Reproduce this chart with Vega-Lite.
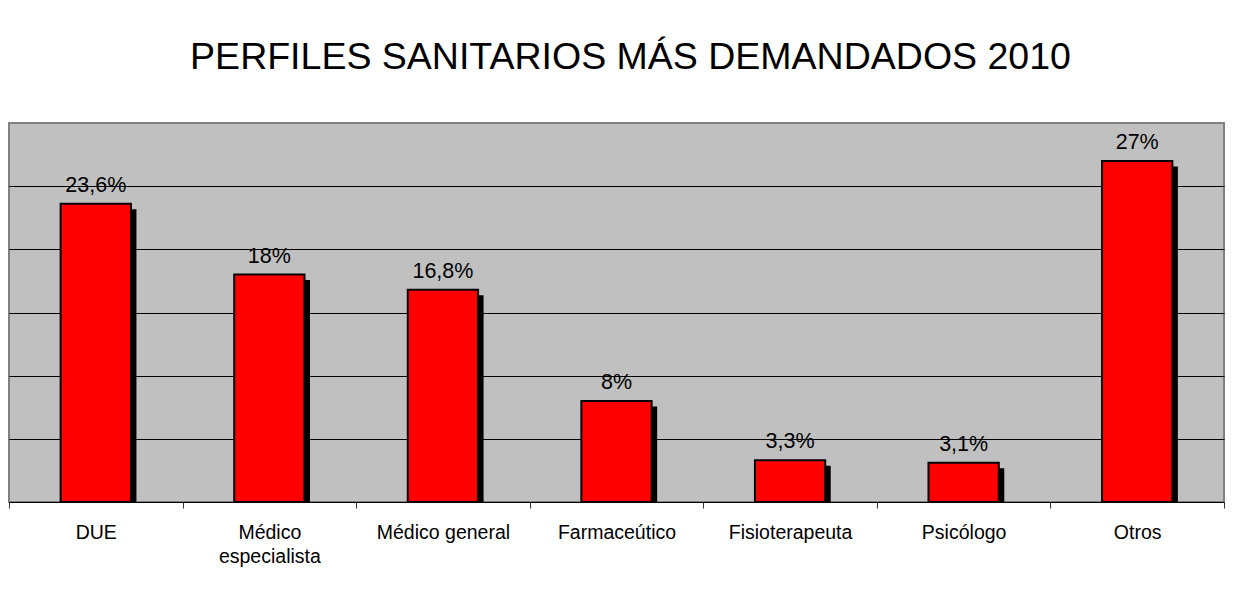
{
  "$schema": "https://vega.github.io/schema/vega-lite/v6.json",
  "width": 1215,
  "height": 379,
  "autosize": {"type": "none"},
  "padding": {"left": 9, "top": 123, "right": 15, "bottom": 92},
  "background": "white",
  "title": {
    "text": "PERFILES SANITARIOS MÁS DEMANDADOS 2010",
    "font": "Liberation Sans",
    "fontSize": 37.5,
    "fontWeight": "normal",
    "color": "black",
    "anchor": "middle",
    "frame": "group",
    "offset": 47,
    "dx": 14
  },
  "config": {
    "view": {"fill": "#C0C0C0", "stroke": "#808080", "strokeWidth": 2}
  },
  "data": {
    "values": [
      {"perfil": "DUE", "valor": 23.6, "etiqueta": "23,6%"},
      {"perfil": "Médico especialista", "valor": 18, "etiqueta": "18%"},
      {"perfil": "Médico general", "valor": 16.8, "etiqueta": "16,8%"},
      {"perfil": "Farmaceútico", "valor": 8, "etiqueta": "8%"},
      {"perfil": "Fisioterapeuta", "valor": 3.3, "etiqueta": "3,3%"},
      {"perfil": "Psicólogo", "valor": 3.1, "etiqueta": "3,1%"},
      {"perfil": "Otros", "valor": 27, "etiqueta": "27%"}
    ]
  },
  "encoding": {
    "x": {
      "field": "perfil",
      "type": "nominal",
      "sort": null,
      "scale": {"paddingInner": 0, "paddingOuter": 0},
      "axis": {
        "title": null,
        "labelAngle": 0,
        "tickBand": "extent",
        "tickColor": "#333333",
        "tickSize": 6,
        "domainColor": "black",
        "domainWidth": 1,
        "labelFont": "Liberation Sans",
        "labelFontSize": 19.5,
        "labelColor": "black",
        "labelPadding": 15,
        "labelBaseline": "top",
        "labelLineHeight": 24.5,
        "labelExpr": "datum.label == 'Médico especialista' ? ['Médico', 'especialista'] : datum.label"
      }
    },
    "y": {
      "field": "valor",
      "type": "quantitative",
      "scale": {"domain": [0, 30], "nice": false},
      "axis": {
        "title": null,
        "labels": false,
        "ticks": false,
        "domain": false,
        "grid": true,
        "gridColor": "black",
        "gridWidth": 1,
        "values": [5, 10, 15, 20, 25]
      }
    }
  },
  "layer": [
    {
      "mark": {"type": "bar", "color": "black", "width": {"band": 0.405}, "xOffset": 5.5, "yOffset": 5.5, "clip": true}
    },
    {
      "mark": {"type": "bar", "color": "#FF0000", "stroke": "black", "strokeWidth": 2, "width": {"band": 0.405}}
    },
    {
      "mark": {"type": "text", "baseline": "bottom", "dy": -7, "font": "Liberation Sans", "fontSize": 21.5, "color": "black"},
      "encoding": {"text": {"field": "etiqueta", "type": "nominal"}}
    }
  ]
}
